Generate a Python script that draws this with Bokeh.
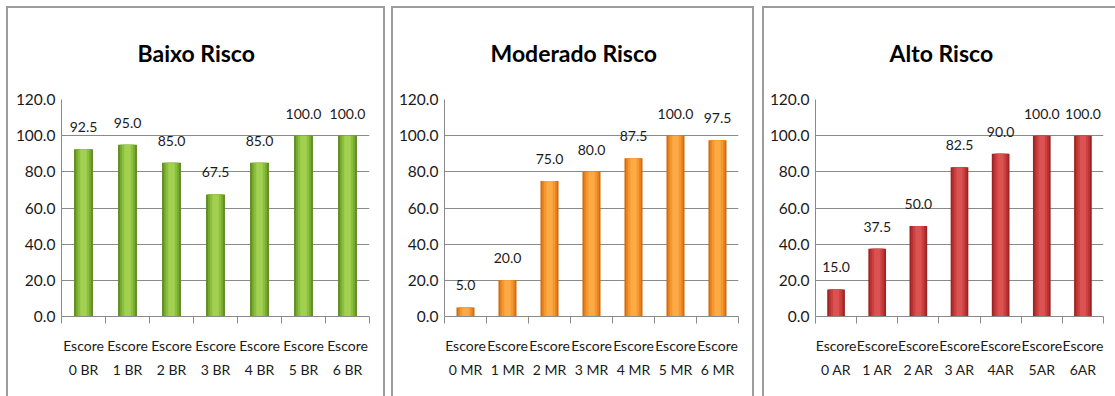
from bokeh.plotting import figure
from bokeh.layouts import row
from bokeh.models import (Range1d, FixedTicker, NumeralTickFormatter,
                          CustomJSTickFormatter, ColumnDataSource)
from bokeh.core.properties import value
from bokeh.embed import file_html
from bokeh.resources import INLINE

# ---- data ----
titles = ["Baixo Risco", "Moderado Risco", "Alto Risco"]
cats_br = ["Escore\n0 BR", "Escore\n1 BR", "Escore\n2 BR", "Escore\n3 BR",
           "Escore\n4 BR", "Escore\n5 BR", "Escore\n6 BR"]
vals_br = [92.5, 95.0, 85.0, 67.5, 85.0, 100.0, 100.0]
cats_mr = ["Escore\n0 MR", "Escore\n1 MR", "Escore\n2 MR", "Escore\n3 MR",
           "Escore\n4 MR", "Escore\n5 MR", "Escore\n6 MR"]
vals_mr = [5.0, 20.0, 75.0, 80.0, 87.5, 100.0, 97.5]
cats_ar = ["Escore\n0 AR", "Escore\n1 AR", "Escore\n2 AR", "Escore\n3 AR",
           "Escore\n4AR", "Escore\n5AR", "Escore\n6AR"]
vals_ar = [15.0, 37.5, 50.0, 82.5, 90.0, 100.0, 100.0]
y_ticks = [0, 20, 40, 60, 80, 100, 120]

FONT = "Lato"
BORDER = "#9c9c9c"

green = ["#5f8c24", "#77a830", "#8dbf3e", "#a2d050"]
orange = ["#d06c14", "#ea8520", "#f59830", "#fbaa46"]
red = ["#9c2424", "#b83232", "#cc4040", "#da5252"]


def make_panel(title, cats, vals, colors, W, H, fl, fr, ft, fb, title_off, margin, shadow):
    n = len(cats)
    centers = [i + 0.5 for i in range(n)]
    src = ColumnDataSource(dict(x=centers, top=vals, lbl=[f"{v:.1f}" for v in vals]))
    p = figure(width=W, height=H, x_range=Range1d(0, n), y_range=Range1d(0, 120),
               output_backend="svg", toolbar_location=None,
               min_border_left=fl, min_border_right=fr, min_border_top=ft,
               min_border_bottom=fb, margin=margin,
               styles={"box-shadow": shadow})
    p.outline_line_color = None
    p.background_fill_color = "white"
    p.border_fill_color = None
    p.xgrid.visible = False
    p.ygrid.ticker = FixedTicker(ticks=y_ticks)
    p.ygrid.grid_line_color = "#8a8a8a"
    p.ygrid.grid_line_width = 1

    p.title.text = title
    p.title.align = "left"
    p.title.offset = title_off
    p.title.text_font = FONT
    p.title.text_font_size = "23px"
    p.title.text_font_style = "bold"
    p.title.text_color = "#000000"
    p.title.vertical_align = "top"
    p.title.standoff = 62

    ya = p.yaxis[0]
    ya.ticker = FixedTicker(ticks=y_ticks)
    ya.formatter = NumeralTickFormatter(format="0.0")
    ya.axis_line_color = "#8a8a8a"
    ya.major_tick_out = 0
    ya.major_tick_in = 0
    ya.minor_tick_out = 0
    ya.minor_tick_in = 0
    ya.major_label_standoff = 6
    ya.major_label_text_font = FONT
    ya.major_label_text_font_size = "15.5px"
    ya.major_label_text_color = "#1a1a1a"

    xa = p.xaxis[0]
    xa.ticker = FixedTicker(ticks=centers, minor_ticks=list(range(n + 1)))
    xa.formatter = CustomJSTickFormatter(args=dict(cats=cats),
                                         code="return cats[Math.floor(tick)];")
    xa.axis_line_color = "#8a8a8a"
    xa.major_tick_line_color = None
    xa.major_tick_out = 0
    xa.major_tick_in = 0
    xa.minor_tick_out = 7
    xa.minor_tick_in = 0
    xa.minor_tick_line_color = "#8a8a8a"
    xa.major_label_standoff = 13
    xa.major_label_text_font = FONT
    xa.major_label_text_font_size = "14px"
    xa.major_label_text_color = "#1a1a1a"
    xa.major_label_text_line_height = 1.45

    for w, c in zip([0.43, 0.35, 0.26, 0.15], colors):
        p.vbar(x="x", top="top", width=w, bottom=0, source=src,
               fill_color=c, line_color=None)

    p.text(x="x", y="top", text="lbl", source=src, y_offset=-22,
           text_align="center", text_baseline="middle", text_font=value(FONT),
           text_font_size="14px", text_color="#1a1a1a")
    return p


sh_full = f"inset 0 2px 0 {BORDER}, inset 2px 0 0 {BORDER}, inset -2px 0 0 {BORDER}"
sh_open = f"inset 0 2px 0 {BORDER}, inset 2px 0 0 {BORDER}"

# panel 1: x 6..385, panel 2: x 391..754, panel 3: x 762..1115 ; top y 6
p1 = make_panel(titles[0], cats_br, vals_br, green, 379, 390, 55, 16, 93, 80, 76,
                (6, 0, 0, 6), sh_full)
p2 = make_panel(titles[1], cats_mr, vals_mr, orange, 363, 390, 53, 16, 93, 80, 46,
                (6, 0, 0, 6), sh_full)
p3 = make_panel(titles[2], cats_ar, vals_ar, red, 353, 390, 53, 12, 93, 80, 74,
                (6, 0, 0, 8), sh_open)

layout = row(p1, p2, p3, spacing=0)
open("out.html", "w").write(file_html(layout, INLINE))
